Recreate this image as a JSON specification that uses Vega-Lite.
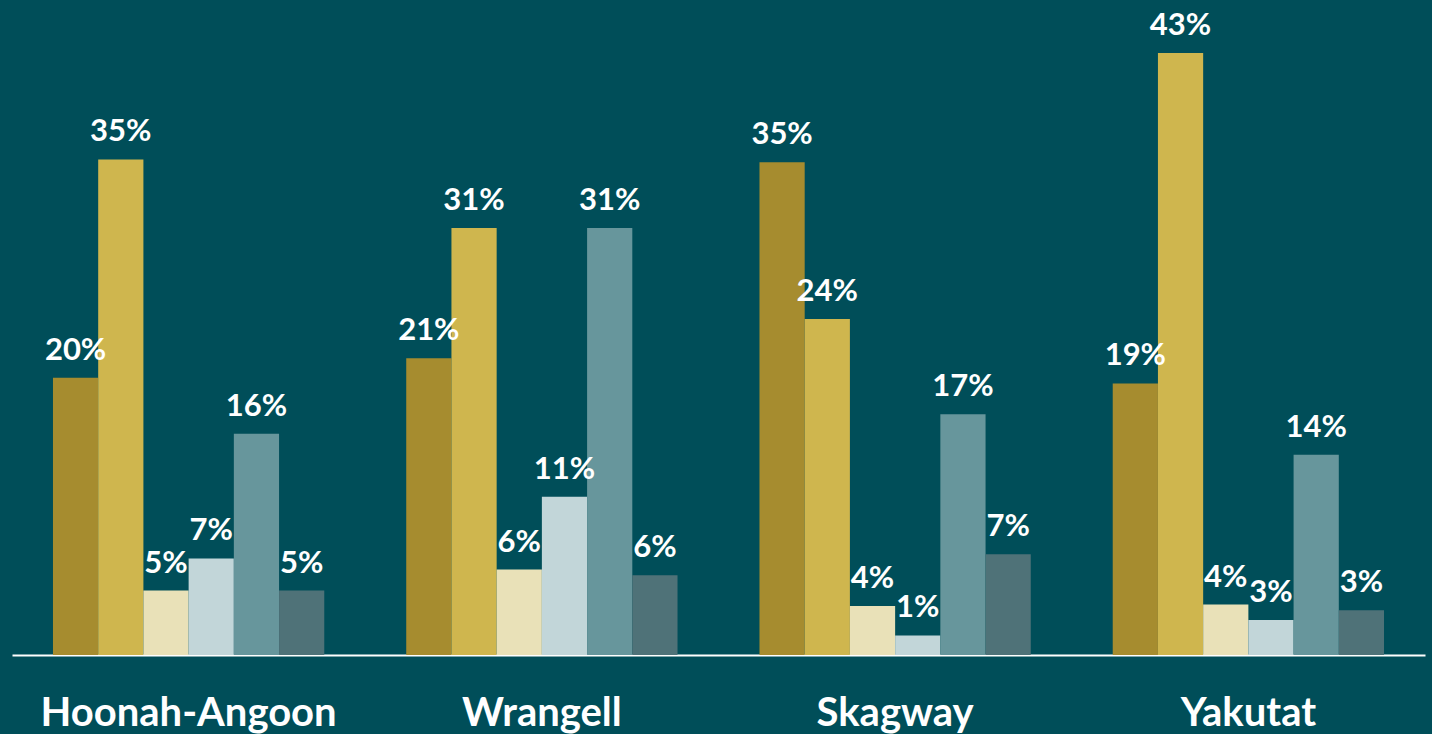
{
  "$schema": "https://vega.github.io/schema/vega-lite/v6.json",
  "width": 1413,
  "height": 655,
  "autosize": {"type": "none"},
  "padding": {"left": 12, "top": 0, "right": 7, "bottom": 79},
  "background": "#004E59",
  "config": {"view": {"stroke": null}, "font": "Lato"},
  "data": {
    "values": [
      {"region": "Hoonah-Angoon", "series": "S1", "value": 19.8, "label": "20%"},
      {"region": "Hoonah-Angoon", "series": "S2", "value": 35.4, "label": "35%"},
      {"region": "Hoonah-Angoon", "series": "S3", "value": 4.6, "label": "5%"},
      {"region": "Hoonah-Angoon", "series": "S4", "value": 6.9, "label": "7%"},
      {"region": "Hoonah-Angoon", "series": "S5", "value": 15.8, "label": "16%"},
      {"region": "Hoonah-Angoon", "series": "S6", "value": 4.6, "label": "5%"},
      {"region": "Wrangell", "series": "S1", "value": 21.2, "label": "21%"},
      {"region": "Wrangell", "series": "S2", "value": 30.5, "label": "31%"},
      {"region": "Wrangell", "series": "S3", "value": 6.1, "label": "6%"},
      {"region": "Wrangell", "series": "S4", "value": 11.3, "label": "11%"},
      {"region": "Wrangell", "series": "S5", "value": 30.5, "label": "31%"},
      {"region": "Wrangell", "series": "S6", "value": 5.7, "label": "6%"},
      {"region": "Skagway", "series": "S1", "value": 35.2, "label": "35%"},
      {"region": "Skagway", "series": "S2", "value": 24.0, "label": "24%"},
      {"region": "Skagway", "series": "S3", "value": 3.5, "label": "4%"},
      {"region": "Skagway", "series": "S4", "value": 1.4, "label": "1%"},
      {"region": "Skagway", "series": "S5", "value": 17.2, "label": "17%"},
      {"region": "Skagway", "series": "S6", "value": 7.2, "label": "7%"},
      {"region": "Yakutat", "series": "S1", "value": 19.4, "label": "19%"},
      {"region": "Yakutat", "series": "S2", "value": 43.0, "label": "43%"},
      {"region": "Yakutat", "series": "S3", "value": 3.6, "label": "4%"},
      {"region": "Yakutat", "series": "S4", "value": 2.5, "label": "3%"},
      {"region": "Yakutat", "series": "S5", "value": 14.3, "label": "14%"},
      {"region": "Yakutat", "series": "S6", "value": 3.2, "label": "3%"}
    ]
  },
  "encoding": {
    "x": {
      "field": "region",
      "type": "nominal",
      "sort": ["Hoonah-Angoon", "Wrangell", "Skagway", "Yakutat"],
      "scale": {"paddingInner": 0.232, "paddingOuter": 0.116},
      "axis": {
        "title": null,
        "labelAngle": 0,
        "ticks": false,
        "grid": false,
        "domainColor": "white",
        "domainWidth": 2,
        "labelColor": "white",
        "labelFont": "Lato",
        "labelFontWeight": "bold",
        "labelFontSize": 40,
        "labelPadding": 38,
        "labelLimit": 0
      }
    },
    "xOffset": {
      "field": "series",
      "type": "nominal",
      "sort": ["S1", "S2", "S3", "S4", "S5", "S6"],
      "scale": {"paddingInner": 0, "paddingOuter": 0}
    },
    "y": {
      "field": "value",
      "type": "quantitative",
      "scale": {"domain": [0, 46.79], "nice": false, "zero": true},
      "axis": null
    }
  },
  "layer": [
    {
      "mark": {"type": "bar"},
      "encoding": {
        "color": {
          "field": "series",
          "type": "nominal",
          "scale": {
            "domain": ["S1", "S2", "S3", "S4", "S5", "S6"],
            "range": ["#A68C2F", "#CFB64E", "#E9E1B8", "#C2D6D9", "#67969C", "#4F7278"]
          },
          "legend": null
        }
      }
    },
    {
      "mark": {
        "type": "text",
        "baseline": "alphabetic",
        "dy": -18,
        "color": "white",
        "font": "Lato",
        "fontWeight": "bold",
        "fontSize": 31
      },
      "encoding": {"text": {"field": "label", "type": "nominal"}}
    }
  ]
}
